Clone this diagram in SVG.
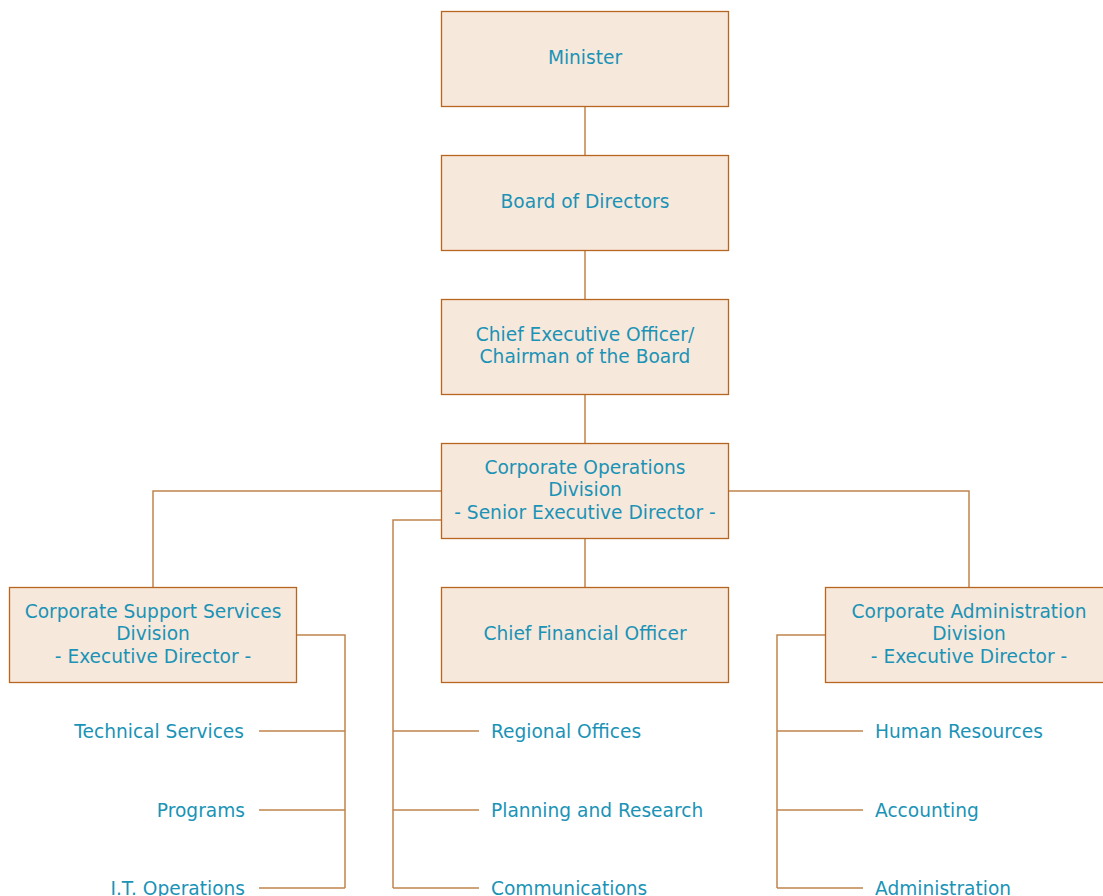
<svg xmlns="http://www.w3.org/2000/svg" width="1103" height="896" viewBox="0 0 1103 896">
<style>
.box{fill:#f7e8dc;stroke:#b8651f;stroke-width:1.3}
.t{font-family:"DejaVu Sans",Verdana,sans-serif;font-size:18.6px;fill:#1a93b6}
.c{text-anchor:middle}
.r{text-anchor:end}
.ln{fill:none;stroke:#c0844c;stroke-width:1.5}
</style>
<rect width="1103" height="896" fill="#ffffff"/>
<g id="connectors">
<path class="ln" d="M585 106.5V155.5M585 250.5V299.5M585 394.5V443.5M585 538.5V587.5"/>
<path class="ln" d="M441.5 491H153V587.5M728.5 491H969V587.5"/>
<path class="ln" d="M441.5 520H393V888M393 731H479M393 810H479M393 888H479"/>
<path class="ln" d="M296.5 635H345V888M345 731H259M345 810H259M345 888H259"/>
<path class="ln" d="M825.5 635H777V888M777 731H863M777 810H863M777 888H863"/>
</g>
<g id="minister"><rect class="box" x="441.5" y="11.5" width="287" height="95"/><text class="t c" x="585" y="63.5">Minister</text></g>
<g id="board"><rect class="box" x="441.5" y="155.5" width="287" height="95"/><text class="t c" x="585" y="207.5">Board of Directors</text></g>
<g id="ceo"><rect class="box" x="441.5" y="299.5" width="287" height="95"/><text class="t c" x="585" y="340.5">Chief Executive Officer/</text><text class="t c" x="585" y="362.5">Chairman of the Board</text></g>
<g id="cod"><rect class="box" x="441.5" y="443.5" width="287" height="95"/><text class="t c" x="585" y="473.5">Corporate Operations</text><text class="t c" x="585" y="496">Division</text><text class="t c" x="585" y="518.5">- Senior Executive Director -</text></g>
<g id="cssd"><rect class="box" x="9.5" y="587.5" width="287" height="95"/><text class="t c" x="153" y="617.5">Corporate Support Services</text><text class="t c" x="153" y="640">Division</text><text class="t c" x="153" y="662.5">- Executive Director -</text></g>
<g id="cfo"><rect class="box" x="441.5" y="587.5" width="287" height="95"/><text class="t c" x="585" y="639.5">Chief Financial Officer</text></g>
<g id="cad"><rect class="box" x="825.5" y="587.5" width="287" height="95"/><text class="t c" x="969" y="617.5">Corporate Administration</text><text class="t c" x="969" y="640">Division</text><text class="t c" x="969" y="662.5">- Executive Director -</text></g>
<g id="technical-services"><text class="t r" x="244" y="737.5">Technical Services</text></g>
<g id="programs"><text class="t r" x="245" y="816.5">Programs</text></g>
<g id="it-operations"><text class="t r" x="245" y="894.5">I.T. Operations</text></g>
<g id="regional-offices"><text class="t" x="491" y="737.5">Regional Offices</text></g>
<g id="planning"><text class="t" x="491" y="816.5">Planning and Research</text></g>
<g id="communications"><text class="t" x="491" y="894.5">Communications</text></g>
<g id="hr"><text class="t" x="875" y="737.5">Human Resources</text></g>
<g id="accounting"><text class="t" x="875" y="816.5">Accounting</text></g>
<g id="administration"><text class="t" x="875" y="894.5">Administration</text></g>
</svg>
